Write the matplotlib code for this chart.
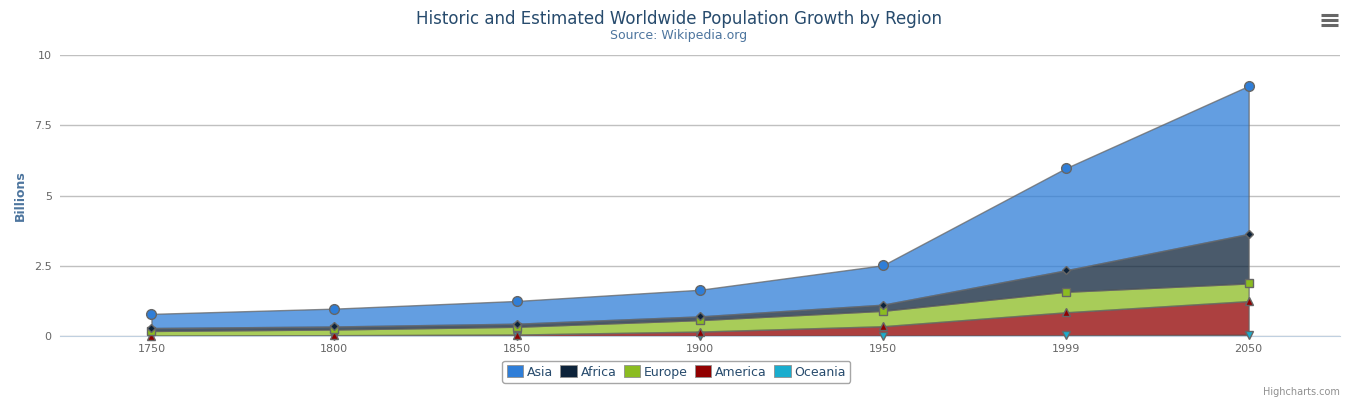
import numpy as np
import matplotlib
matplotlib.use("Agg")
import matplotlib.pyplot as plt
from matplotlib.patches import Patch
from matplotlib.lines import Line2D

# ── data (millions) ───────────────────────────────────────────────────────────
years   = ["1750", "1800", "1850", "1900", "1950", "1999", "2050"]
asia    = [502, 635, 809, 947, 1402, 3634, 5268]
africa  = [106, 107, 111, 133, 221, 767, 1766]
europe  = [163, 203, 276, 408, 547, 729, 628]
america = [18, 31, 54, 156, 339, 818, 1201]
oceania = [2, 2, 2, 6, 13, 30, 46]

names   = ["Asia", "Africa", "Europe", "America", "Oceania"]
colors  = ["#2f7ed8", "#0d233a", "#8bbc21", "#910000", "#1aadce"]
markers = ["o", "D", "s", "^", "v"]
msizes  = [7, 4.5, 6, 6, 6]

series = [np.array(s) / 1000.0 for s in (asia, africa, europe, america, oceania)]

# ── figure ────────────────────────────────────────────────────────────────────
fig = plt.figure(figsize=(13.58, 4.03), dpi=100)
ax = fig.add_axes([0.0442, 0.166, 0.9426, 0.697])
x = np.arange(len(years))

# stack from the bottom: Oceania, America, Europe, Africa, Asia
bottom_first = series[::-1]
cols_bf = colors[::-1]
ax.stackplot(x, *bottom_first, colors=cols_bf, alpha=0.75,
             edgecolor="#666666", linewidth=1, zorder=2)

tops = np.cumsum(np.vstack(bottom_first), axis=0)
for i, (top, c) in enumerate(zip(tops, cols_bf)):
    k = len(names) - 1 - i
    ax.plot(x, top, linestyle="none", marker=markers[k], markersize=msizes[k],
            markerfacecolor=c, markeredgecolor="#666666", markeredgewidth=1,
            zorder=4, clip_on=False)

ax.set_xlim(-0.5, 6.5)
ax.set_ylim(0, 10)
ax.set_xticks(x)
ax.set_xticklabels(years)
ax.set_yticks([0, 2.5, 5, 7.5, 10])
ax.set_yticklabels(["0", "2.5", "5", "7.5", "10"])
ax.tick_params(axis="both", length=0, labelsize=8, labelcolor="#666666")
ax.tick_params(axis="x", pad=6)
ax.tick_params(axis="y", pad=6)
ax.grid(axis="y", color="#c0c0c0", linewidth=1)
ax.set_axisbelow(True)
for side in ("top", "left", "right"):
    ax.spines[side].set_visible(False)
ax.spines["bottom"].set_color("#c0d0e0")

ax.set_ylabel("Billions", fontsize=9, fontweight="bold", color="#4d759e", labelpad=5)

fig.text(0.5, 0.953, "Historic and Estimated Worldwide Population Growth by Region",
         ha="center", va="center", fontsize=12, color="#274b6d")
fig.text(0.5, 0.913, "Source: Wikipedia.org", ha="center", va="center",
         fontsize=9, color="#4d759e")

handles = [Patch(facecolor=c, edgecolor="#909090", linewidth=0.6) for c in colors]
leg = fig.legend(handles, names, loc="center", bbox_to_anchor=(0.498, 0.077),
                 ncol=5, fontsize=9, frameon=True, fancybox=True,
                 handlelength=1.3, handleheight=1.1, handletextpad=0.3,
                 columnspacing=0.6, borderpad=0.35, labelcolor="#274b6d")
leg.get_frame().set_edgecolor("#909090")
leg.get_frame().set_linewidth(1)

fig.text(0.987, 0.028, "Highcharts.com", ha="right", va="center",
         fontsize=7, color="#909090")

# export menu icon
for yy in (0.938, 0.950, 0.963):
    fig.add_artist(Line2D([0.9727, 0.9853], [yy, yy], color="#666666",
                          linewidth=2.2, solid_capstyle="butt"))

fig.savefig("out.png", dpi=100)
